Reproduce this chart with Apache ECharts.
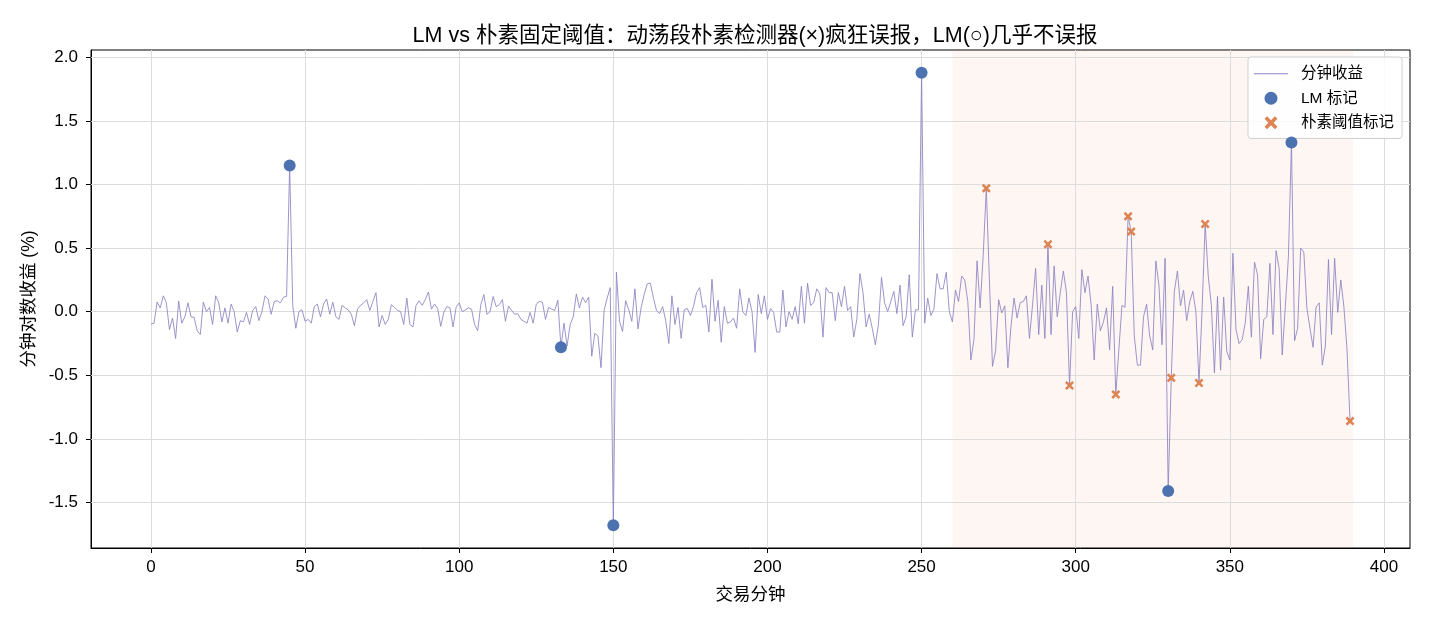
<!DOCTYPE html>
<html lang="zh_CN">
<head>
    <meta charset="UTF-8">
    <title>LM vs 朴素固定阈值</title>
    <script src="https://cdn.jsdelivr.net/npm/echarts@6/dist/echarts.min.js"></script>
</head>
<style>
    body { margin: 0; padding: 0; background: #fff; }
    #main { width: 1430px; height: 624px; }
</style>
<body>
<div id="main"></div>
<script type="text/javascript">
    // 分钟对数收益 (%)，第 0..389 分钟
    var returns = [
        -0.097, -0.09, 0.076, 0.03, 0.125, 0.07, -0.14, -0.05, -0.21, 0.084,
        -0.09, -0.04, 0.07, -0.04, -0.045, -0.15, -0.18, 0.076, 0.0, 0.034,
        -0.1, 0.125, 0.07, -0.08, 0.03, -0.09, 0.06, 0.0, -0.16, -0.07,
        -0.08, -0.005, -0.1, 0.01, 0.04, -0.07, 0.0, 0.125, 0.1, -0.02,
        0.08, 0.086, 0.07, 0.115, 0.12, 1.15, 0.05, -0.13, 0.0, 0.015,
        -0.075, -0.06, -0.09, 0.04, 0.06, -0.04, 0.06, 0.1, -0.02, 0.075,
        -0.04, -0.06, 0.05, 0.03, 0.015, -0.02, -0.11, 0.02, 0.05, 0.07,
        0.095, 0.01, 0.08, 0.15, -0.12, -0.03, -0.1, -0.06, 0.055, 0.034,
        0.01, 0.0, -0.1, 0.107, -0.1, -0.12, 0.05, 0.086, 0.05, 0.095,
        0.155, 0.02, 0.06, 0.025, -0.115, -0.005, 0.04, 0.03, -0.12, 0.034,
        0.07, 0.0, 0.015, 0.03, 0.02, -0.1, -0.15, 0.055, 0.135, -0.02,
        0.0, 0.12, 0.04, 0.055, 0.095, -0.075, 0.045, 0.01, -0.02, -0.015,
        -0.06, -0.075, -0.09, -0.005, -0.09, 0.06, 0.08, 0.075, -0.06, 0.034,
        0.02, 0.01, 0.09, -0.28, -0.09, -0.27, -0.1, -0.04, 0.14, 0.03,
        0.115, 0.07, 0.115, -0.35, -0.17, -0.19, -0.44, 0.01, 0.107, 0.19,
        -1.68, 0.31, -0.075, -0.155, 0.086, 0.015, -0.075, 0.18, -0.135, 0.03,
        0.135, 0.22, 0.225, 0.11, 0.01, -0.015, 0.04, -0.07, -0.25, 0.125,
        -0.1, 0.034, -0.21, 0.015, 0.025, -0.03, 0.04, 0.15, 0.19, 0.034,
        0.05, -0.16, 0.255, -0.075, 0.09, -0.24, 0.04, -0.09, -0.08, -0.05,
        -0.13, 0.18, 0.0, -0.03, 0.107, 0.0, -0.32, 0.135, -0.015, 0.125,
        -0.06, 0.025, -0.005, -0.16, -0.16, 0.17, -0.12, 0.0, -0.06, 0.04,
        -0.095, 0.2, -0.09, 0.225, 0.05, 0.07, 0.18, 0.14, -0.2, 0.19,
        0.15, 0.15, -0.07, 0.15, 0.04, 0.2, 0.01, 0.04, -0.2, -0.06,
        0.3, 0.15, -0.12, -0.02, -0.13, -0.26, -0.1, 0.27, 0.07, 0.0,
        0.08, 0.16, -0.015, 0.21, -0.11, -0.04, 0.29, -0.2, 0.015, 0.015,
        1.88, -0.09, 0.107, -0.03, 0.02, 0.3, 0.18, 0.18, 0.31, 0.0,
        -0.08, 0.17, 0.08, 0.28, 0.25, 0.08, -0.38, -0.22, 0.4, 0.03,
        0.45, 0.97, 0.25, -0.43, -0.31, 0.094, -0.01, 0.047, -0.44, -0.115,
        0.107, -0.05, 0.073, 0.08, 0.125, -0.21, 0.055, 0.34, -0.18, 0.21,
        -0.21, 0.53, -0.18, 0.36, -0.04, 0.15, 0.32, 0.15, -0.58, 0.0,
        0.04, -0.21, 0.33, 0.15, 0.28, 0.055, -0.38, 0.06, -0.15, -0.08,
        0.03, -0.3, 0.2, -0.65, -0.3, 0.05, 0.035, 0.75, 0.63, -0.19,
        -0.42, -0.42, -0.04, 0.06, -0.19, -0.3, 0.4, 0.21, -0.26, 0.42,
        -1.41, -0.52, 0.16, 0.32, 0.047, 0.17, -0.07, 0.08, 0.16, 0.0,
        -0.56, 0.015, 0.69, 0.28, 0.055, -0.48, 0.12, -0.46, 0.115, -0.31,
        -0.38, 0.46, -0.14, -0.25, -0.22, -0.09, 0.2, -0.2, 0.39, 0.29,
        -0.37, -0.06, -0.04, 0.38, -0.18, 0.48, 0.34, -0.34, 0.04, 0.43,
        1.33, -0.23, -0.13, 0.5, 0.47, 0.03, -0.13, -0.28, 0.037, 0.07,
        -0.42, -0.27, 0.41, -0.18, 0.42, -0.005, 0.25, 0.04, -0.29, -0.86
    ];
    var lmIdx = [45, 133, 150, 250, 330, 370];          // LM 标记的分钟
    var naiveIdx = [271, 291, 298, 313, 317, 318, 331, 340, 342, 389]; // 朴素阈值标记的分钟
    var shadeStart = 260, shadeEnd = 390;                // 动荡段
    var xTicks = [0, 50, 100, 150, 200, 250, 300, 350, 400];
    var yTicks = [-1.5, -1.0, -0.5, 0.0, 0.5, 1.0, 1.5, 2.0];

    var lineData = returns.map(function (v, i) { return [i, v]; });
    var lmData = lmIdx.map(function (i) { return [i, returns[i]]; });
    var naiveData = naiveIdx.map(function (i) { return [i, returns[i]]; });

    var FONT = 'Liberation Sans, Noto Sans CJK SC, sans-serif';
    var xShape = 'path://M2,0 L5,3 L8,0 L10,2 L7,5 L10,8 L8,10 L5,7 L2,10 L0,8 L3,5 L0,2 Z';

    var myChart = echarts.init(document.getElementById('main'));
    var option = {
        animation: false,
        backgroundColor: '#fff',
        textStyle: { fontFamily: FONT },
        title: {
            text: 'LM vs 朴素固定阈值：动荡段朴素检测器(×)疯狂误报，LM(○)几乎不误报',
            left: 750, textAlign: 'center', top: 20,
            textStyle: { fontSize: 21.5, fontWeight: 'normal', color: '#000', fontFamily: FONT }
        },
        grid: {
            left: 91, right: 20, top: 50, bottom: 76,
            show: true, borderColor: '#000', borderWidth: 1
        },
        legend: {
            orient: 'vertical', right: 28, top: 57,
            padding: [9, 8, 8, 6], itemGap: 9, itemWidth: 34, itemHeight: 13,
            backgroundColor: 'rgba(255,255,255,0.85)', borderColor: '#d0d0d0', borderWidth: 1, borderRadius: 3,
            textStyle: { fontSize: 15.5, color: '#000', fontFamily: FONT, padding: [0, 0, 0, 8] },
            data: [
                { name: '分钟收益', icon: 'path://M0,0 L40,0 L40,1.2 L0,1.2 Z' },
                { name: 'LM 标记', icon: 'circle' },
                { name: '朴素阈值标记', icon: xShape }
            ]
        },
        xAxis: {
            type: 'value', min: -19.45, max: 408.45,
            name: '交易分钟', nameLocation: 'middle', nameGap: 38,
            nameTextStyle: { fontSize: 17.5, color: '#000', fontFamily: FONT },
            axisLine: { onZero: false, lineStyle: { color: '#000' } },
            axisTick: { customValues: xTicks, length: 5, lineStyle: { color: '#000' } },
            axisLabel: {
                customValues: xTicks, fontSize: 17, color: '#000', margin: 11
            },
            splitLine: { show: false }
        },
        yAxis: {
            type: 'value', min: -1.858, max: 2.058,
            name: '分钟对数收益 (%)', nameLocation: 'middle', nameGap: 49,
            nameTextStyle: { fontSize: 17.5, color: '#000', fontFamily: FONT },
            axisLine: { show: true, onZero: false, lineStyle: { color: '#000' } },
            axisTick: { show: true, customValues: yTicks, length: 5, lineStyle: { color: '#000' } },
            axisLabel: {
                customValues: yTicks, fontSize: 17, color: '#000', margin: 13,
                formatter: function (v) { return v.toFixed(1); }
            },
            splitLine: { show: false }
        },
        series: [
            {
                name: '分钟收益', type: 'line', data: lineData,
                showSymbol: false, symbol: 'none',
                lineStyle: { color: '#8c82c2', width: 1, opacity: 0.85 },
                itemStyle: { color: '#8c82c2' },
                z: 2,
                markArea: {
                    silent: true,
                    itemStyle: { color: 'rgba(221,132,82,0.07)' },
                    data: [[{ xAxis: shadeStart }, { xAxis: shadeEnd }]]
                },
                // 网格线：按刻度值画
                markLine: {
                    silent: true, symbol: 'none', label: { show: false },
                    lineStyle: { color: '#dcdcdc', width: 1, type: 'solid' },
                    data: xTicks.map(function (t) { return { xAxis: t }; })
                        .concat(yTicks.map(function (t) { return { yAxis: t }; })),
                    z: 1
                }
            },
            {
                name: 'LM 标记', type: 'scatter', data: lmData,
                symbol: 'circle', symbolSize: 12,
                itemStyle: { color: '#4c72b0', opacity: 1 },
                z: 4
            },
            {
                name: '朴素阈值标记', type: 'scatter', data: naiveData,
                symbol: xShape, symbolSize: 9,
                itemStyle: { color: '#dd8452', opacity: 1 },
                z: 5
            }
        ]
    };
    myChart.setOption(option);
</script>
</body>
</html>
